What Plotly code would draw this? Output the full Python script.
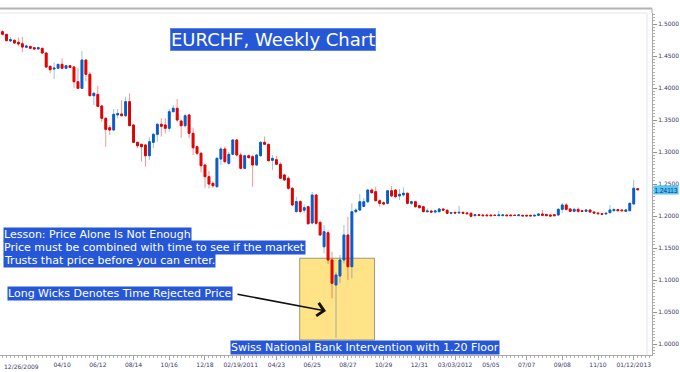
import pandas as pd
import plotly.graph_objects as go

# ---------------- data (weekly EURCHF candles) ----------------
start_date = "2009-12-26"
n_weeks = 161
dates = pd.date_range(start_date, periods=n_weeks, freq="7D")

opens = [
    1.4880, 1.4839, 1.4735, 1.4745, 1.4714, 1.4692, 1.4636, 1.4650, 1.4630, 1.4610,
    1.4620, 1.4547, 1.4339, 1.4297, 1.4308, 1.4370, 1.4308, 1.4349, 1.4328, 1.4098,
    1.3995, 1.4437, 1.4214, 1.3880, 1.3900, 1.3719, 1.3527, 1.3380, 1.3344, 1.3580,
    1.3594, 1.3567, 1.3786, 1.3422, 1.3151, 1.3120, 1.3110, 1.2942, 1.3151, 1.3276,
    1.3433, 1.3422, 1.3370, 1.3630, 1.3683, 1.3484, 1.3411, 1.3578, 1.3292, 1.3083,
    1.2980, 1.2797, 1.2614, 1.2511, 1.2458, 1.2890, 1.3047, 1.2823, 1.2964, 1.3188,
    1.2953, 1.2745, 1.2942, 1.2927, 1.2797, 1.2942, 1.3151, 1.3120, 1.2870, 1.2880,
    1.2808, 1.2641, 1.2589, 1.2433, 1.2070, 1.2225, 1.2090, 1.2145, 1.1890, 1.2328,
    1.1900, 1.1520, 1.1739, 1.1313, 1.0922, 1.1063, 1.1313, 1.1703, 1.1208, 1.2067,
    1.2093, 1.2150, 1.2223, 1.2406, 1.2380, 1.2239, 1.2208, 1.2198, 1.2395, 1.2406,
    1.2313, 1.2330, 1.2355, 1.2198, 1.2223, 1.2161, 1.2145, 1.2067, 1.2078, 1.2062,
    1.2067, 1.2109, 1.2089, 1.2042, 1.2057, 1.2047, 1.2057, 1.2047, 1.2042, 1.2005,
    1.2020, 1.2015, 1.2015, 1.2015, 1.2014, 1.2005, 1.2005, 1.2015, 1.2015, 1.2014,
    1.2005, 1.2011, 1.2011, 1.2011, 1.2000, 1.2011, 1.2031, 1.2025, 1.2016, 1.2020,
    1.2016, 1.2104, 1.2172, 1.2110, 1.2073, 1.2104, 1.2083, 1.2073, 1.2094, 1.2062,
    1.2047, 1.2036, 1.2031, 1.2052, 1.2083, 1.2100, 1.2094, 1.2073, 1.2083, 1.2188,
    1.2427,
]
highs = [
    1.4901, 1.4845, 1.4797, 1.4760, 1.4786, 1.4797, 1.4680, 1.4660, 1.4640, 1.4645,
    1.4630, 1.4555, 1.4350, 1.4400, 1.4380, 1.4464, 1.4360, 1.4360, 1.4340, 1.4318,
    1.4578, 1.4440, 1.4255, 1.3940, 1.4036, 1.3730, 1.3540, 1.3420, 1.3672, 1.3672,
    1.3810, 1.3864, 1.3917, 1.3430, 1.3160, 1.3130, 1.3120, 1.3230, 1.3300, 1.3450,
    1.3527, 1.3527, 1.3672, 1.3735, 1.3828, 1.3510, 1.3600, 1.3600, 1.3380, 1.3100,
    1.3000, 1.2810, 1.2703, 1.2540, 1.2920, 1.3083, 1.3083, 1.3000, 1.3200, 1.3200,
    1.2990, 1.2960, 1.2960, 1.2950, 1.2970, 1.3170, 1.3240, 1.3130, 1.2953, 1.2940,
    1.2840, 1.2660, 1.2620, 1.2450, 1.2300, 1.2250, 1.2180, 1.2160, 1.2375, 1.2340,
    1.1930, 1.1859, 1.1780, 1.1442, 1.1120, 1.1390, 1.1859, 1.1989, 1.2198, 1.2120,
    1.2344, 1.2280, 1.2422, 1.2430, 1.2458, 1.2261, 1.2230, 1.2406, 1.2469, 1.2422,
    1.2422, 1.2445, 1.2370, 1.2240, 1.2230, 1.2170, 1.2160, 1.2120, 1.2090, 1.2100,
    1.2125, 1.2120, 1.2110, 1.2060, 1.2065, 1.2161, 1.2070, 1.2065, 1.2062, 1.2030,
    1.2025, 1.2020, 1.2020, 1.2020, 1.2018, 1.2078, 1.2025, 1.2020, 1.2020, 1.2018,
    1.2020, 1.2016, 1.2016, 1.2016, 1.2016, 1.2036, 1.2094, 1.2030, 1.2020, 1.2025,
    1.2125, 1.2203, 1.2203, 1.2115, 1.2130, 1.2135, 1.2090, 1.2100, 1.2100, 1.2070,
    1.2055, 1.2040, 1.2050, 1.2172, 1.2130, 1.2105, 1.2100, 1.2105, 1.2210, 1.2563,
    1.2435,
]
lows = [
    1.4818, 1.4730, 1.4720, 1.4690, 1.4650, 1.4558, 1.4620, 1.4610, 1.4600, 1.4595,
    1.4540, 1.4320, 1.4230, 1.4140, 1.4300, 1.4300, 1.4300, 1.4310, 1.4005, 1.3990,
    1.3990, 1.4109, 1.3870, 1.3734, 1.3700, 1.3470, 1.3080, 1.3266, 1.3330, 1.3527,
    1.3560, 1.3550, 1.3405, 1.3140, 1.3060, 1.2849, 1.2771, 1.2875, 1.3058, 1.3160,
    1.3240, 1.3290, 1.3320, 1.3620, 1.3470, 1.3224, 1.3380, 1.3214, 1.2953, 1.2950,
    1.2682, 1.2438, 1.2433, 1.2440, 1.2440, 1.2797, 1.2823, 1.2800, 1.2950, 1.2930,
    1.2730, 1.2730, 1.2900, 1.2458, 1.2780, 1.2930, 1.3110, 1.2858, 1.2720, 1.2800,
    1.2580, 1.2550, 1.2410, 1.2150, 1.2050, 1.2040, 1.2050, 1.1860, 1.1870, 1.1860,
    1.1690, 1.1417, 1.1250, 1.0714, 1.0094, 1.0950, 1.1261, 1.1000, 1.1027, 1.2040,
    1.2080, 1.2140, 1.2200, 1.2350, 1.2230, 1.2145, 1.2170, 1.2180, 1.2300, 1.2276,
    1.2250, 1.2300, 1.2180, 1.2170, 1.2130, 1.2120, 1.2060, 1.2050, 1.2050, 1.2040,
    1.2060, 1.2080, 1.2035, 1.2030, 1.2040, 1.2040, 1.2035, 1.2025, 1.1980, 1.1995,
    1.2005, 1.2000, 1.2000, 1.2000, 1.2003, 1.2000, 1.2000, 1.2000, 1.2000, 1.2003,
    1.2000, 1.1998, 1.1998, 1.1998, 1.1995, 1.1998, 1.1998, 1.2000, 1.1998, 1.2000,
    1.2000, 1.2047, 1.2083, 1.2062, 1.2060, 1.2050, 1.2065, 1.2065, 1.2055, 1.2040,
    1.2030, 1.2020, 1.2025, 1.2040, 1.2070, 1.2080, 1.2075, 1.2060, 1.2075, 1.2180,
    1.2400,
]
closes = [
    1.4839, 1.4740, 1.4755, 1.4703, 1.4688, 1.4640, 1.4656, 1.4620, 1.4610, 1.4630,
    1.4547, 1.4328, 1.4286, 1.4310, 1.4370, 1.4308, 1.4349, 1.4320, 1.4098, 1.3995,
    1.4437, 1.4214, 1.3880, 1.3917, 1.3713, 1.3527, 1.3354, 1.3344, 1.3589, 1.3600,
    1.3567, 1.3786, 1.3411, 1.3151, 1.3098, 1.3083, 1.2942, 1.3161, 1.3276, 1.3433,
    1.3402, 1.3370, 1.3630, 1.3683, 1.3500, 1.3411, 1.3567, 1.3292, 1.3067, 1.2980,
    1.2786, 1.2614, 1.2500, 1.2473, 1.2901, 1.3047, 1.2849, 1.2964, 1.3188, 1.2953,
    1.2745, 1.2942, 1.2911, 1.2797, 1.2953, 1.3151, 1.3120, 1.2864, 1.2900, 1.2808,
    1.2589, 1.2563, 1.2433, 1.2172, 1.2225, 1.2070, 1.2130, 1.1880, 1.2328, 1.1886,
    1.1703, 1.1755, 1.1313, 1.0948, 1.1078, 1.1313, 1.1703, 1.1208, 1.2067, 1.2093,
    1.2223, 1.2223, 1.2406, 1.2364, 1.2239, 1.2198, 1.2188, 1.2395, 1.2313, 1.2302,
    1.2339, 1.2355, 1.2198, 1.2223, 1.2145, 1.2130, 1.2067, 1.2078, 1.2062, 1.2078,
    1.2109, 1.2093, 1.2042, 1.2052, 1.2047, 1.2057, 1.2042, 1.2036, 1.1995, 1.2020,
    1.2010, 1.2005, 1.2005, 1.2005, 1.2008, 1.2016, 1.2016, 1.2005, 1.2005, 1.2008,
    1.2016, 1.2002, 1.2002, 1.2002, 1.2011, 1.2031, 1.2011, 1.2005, 1.2000, 1.2005,
    1.2104, 1.2172, 1.2104, 1.2073, 1.2104, 1.2073, 1.2073, 1.2094, 1.2062, 1.2047,
    1.2036, 1.2026, 1.2042, 1.2094, 1.2100, 1.2083, 1.2083, 1.2094, 1.2198, 1.2433,
    1.24113,
]

x_tick_dates = ["2010-02-06", "2010-04-10", "2010-06-12", "2010-08-14", "2010-10-16",
                "2010-12-18", "2011-02-19", "2011-04-23", "2011-06-25", "2011-08-27",
                "2011-10-29", "2011-12-31", "2012-03-03", "2012-05-05", "2012-07-07",
                "2012-09-08", "2012-11-10", "2013-01-12"]
x_tick_labels = ["", "04/10", "06/12", "08/14", "10/16", "12/18", "02/19/2011", "04/23",
                 "06/25", "08/27", "10/29", "12/31", "03/03/2012", "05/05", "07/07",
                 "09/08", "11/10", "01/12/2013"]
first_label = "12/26/2009"

title_text = "EURCHF, Weekly Chart"
lesson_lines = ["Lesson: Price Alone Is Not Enough",
                "Price must be combined with time to see if the market",
                "Trusts that price before you can enter."]
wick_note = "Long Wicks Denotes Time Rejected Price"
snb_note = "Swiss National Bank Intervention with 1.20 Floor"
last_price = closes[-1]

# intervention zone (dates / prices)
zone_x = ["2011-06-03", "2011-10-13"]
zone_y = [1.0063, 1.1340]

# ---------------- styling ----------------
W, H = 680, 372
ML, MR, MT, MB = 0, 28, 13, 17
PW, PH = W - ML - MR, H - MT - MB

def px_x(p):
    return (p - ML) / PW

def px_y(p):
    return (H - MB - p) / PH

RED = "#e00000"
BLUE = "#0a5cc6"
HL = "#2657d6"
FONT = "DejaVu Sans"

body_hi = [max(o, c) for o, c in zip(opens, closes)]
body_lo = [min(o, c) for o, c in zip(opens, closes)]

fig = go.Figure()
# wicks (semi-transparent)
fig.add_trace(go.Candlestick(
    x=dates, open=opens, high=highs, low=lows, close=closes,
    increasing=dict(line=dict(color="rgba(20,105,215,0.42)", width=1), fillcolor="rgba(0,0,0,0)"),
    decreasing=dict(line=dict(color="rgba(230,0,0,0.42)", width=1), fillcolor="rgba(0,0,0,0)"),
    whiskerwidth=0, showlegend=False, hoverinfo="skip"))
# bodies (opaque)
fig.add_trace(go.Candlestick(
    x=dates, open=opens, high=body_hi, low=body_lo, close=closes,
    increasing=dict(line=dict(color=BLUE, width=1), fillcolor=BLUE),
    decreasing=dict(line=dict(color=RED, width=1), fillcolor=RED),
    whiskerwidth=0, showlegend=False))

shapes = [
    dict(type="rect", xref="x", yref="y", x0=zone_x[0], x1=zone_x[1], y0=zone_y[0], y1=zone_y[1],
         fillcolor="#ffe386", line=dict(color="#9c9a78", width=1), layer="below"),
    # outer top frame
    dict(type="line", xref="paper", yref="paper", x0=0, x1=1, y0=px_y(8.5), y1=px_y(8.5),
         line=dict(color="#b4b4b4", width=2)),
    dict(type="line", xref="paper", yref="paper", x0=1, x1=1, y0=1, y1=px_y(8.5),
         line=dict(color="#a8a8a8", width=1)),
    # inner light frame
    dict(type="line", xref="paper", yref="paper", x0=0, x1=px_x(647), y0=1, y1=1,
         line=dict(color="#dfe5ee", width=1)),
    dict(type="line", xref="paper", yref="paper", x0=px_x(647), x1=px_x(647), y0=0, y1=1,
         line=dict(color="#dfe5ee", width=1)),
]

ann = []
ann.append(dict(text=title_text, xref="paper", yref="paper", x=px_x(273), y=px_y(39.5),
                showarrow=False, font=dict(family=FONT, size=18, color="white"),
                bgcolor=HL, bordercolor="#5c86e0", borderwidth=1, borderpad=0,
                xanchor="center", yanchor="middle"))
for k, (line, yc) in enumerate(zip(lesson_lines, [234.5, 247.7, 260.9])):
    ann.append(dict(text=line, xref="paper", yref="paper", x=px_x(3), y=px_y(yc),
                    showarrow=False, font=dict(family=FONT, size=11, color="white"),
                    bgcolor=HL, borderpad=0, xanchor="left", yanchor="middle"))
ann.append(dict(text=wick_note, xref="paper", yref="paper", x=px_x(7), y=px_y(293.5),
                showarrow=False, font=dict(family=FONT, size=11, color="white"),
                bgcolor=HL, borderpad=0, xanchor="left", yanchor="middle"))
ann.append(dict(text="", xref="paper", yref="paper", x=px_x(326), y=px_y(311),
                ax=-90, ay=-17, showarrow=True, arrowhead=4, arrowsize=1.6,
                arrowwidth=1.6, arrowcolor="#111111", standoff=0))
ann.append(dict(text=snb_note, xref="paper", yref="paper", x=px_x(365), y=px_y(347.5),
                showarrow=False, font=dict(family=FONT, size=11, color="white"),
                bgcolor=HL, borderpad=0, xanchor="center", yanchor="middle"))
ann.append(dict(text=f"{last_price:.5f}", xref="paper", yref="y", x=1, y=last_price,
                xshift=1, showarrow=False,
                font=dict(family="Liberation Sans", size=6.5, color="#1b2a6a"),
                bgcolor="#55c8f7", borderpad=0.5, xanchor="left", yanchor="middle"))
ann.append(dict(text=first_label, xref="paper", yref="paper", x=px_x(2), y=0,
                yshift=-11, showarrow=False, font=dict(family=FONT, size=6, color="#3a3a6c"),
                xanchor="left", yanchor="middle"))

fig.update_layout(
    width=W, height=H, margin=dict(l=ML, r=MR, t=MT, b=MB),
    paper_bgcolor="white", plot_bgcolor="white",
    showlegend=False, boxgap=0.35,
    shapes=shapes, annotations=ann,
    xaxis=dict(type="date", range=["2009-12-21 13:00", "2013-02-13 05:00"],
               rangeslider=dict(visible=False), showgrid=False, zeroline=False,
               showline=True, linecolor="#a8a8a8", linewidth=1,
               tickmode="array", tickvals=x_tick_dates, ticktext=x_tick_labels,
               ticks="outside", ticklen=4, tickcolor="#a0a0a0",
               tickfont=dict(family=FONT, size=6, color="#3a3a6c"),
               minor=dict(ticks="outside", ticklen=2, tickcolor="#b0b0b0",
                          tickmode="linear", tick0=start_date, dtick=7 * 86400000),
               fixedrange=True),
    yaxis=dict(side="right", range=[0.98281, 1.5172], showgrid=False, zeroline=False,
               showline=True, linecolor="#a8a8a8", linewidth=1,
               tick0=1.0, dtick=0.05, tickformat=".4f",
               ticks="outside", ticklen=4, tickcolor="#909090",
               tickfont=dict(family=FONT, size=6, color="#3a3a6c"),
               minor=dict(ticks="outside", ticklen=2, tickcolor="#b0b0b0", dtick=0.005),
               fixedrange=True),
)

fig.write_html("out.html", config={"displayModeBar": False},
               post_script="document.body.style.margin='0';document.body.style.overflow='hidden';")
